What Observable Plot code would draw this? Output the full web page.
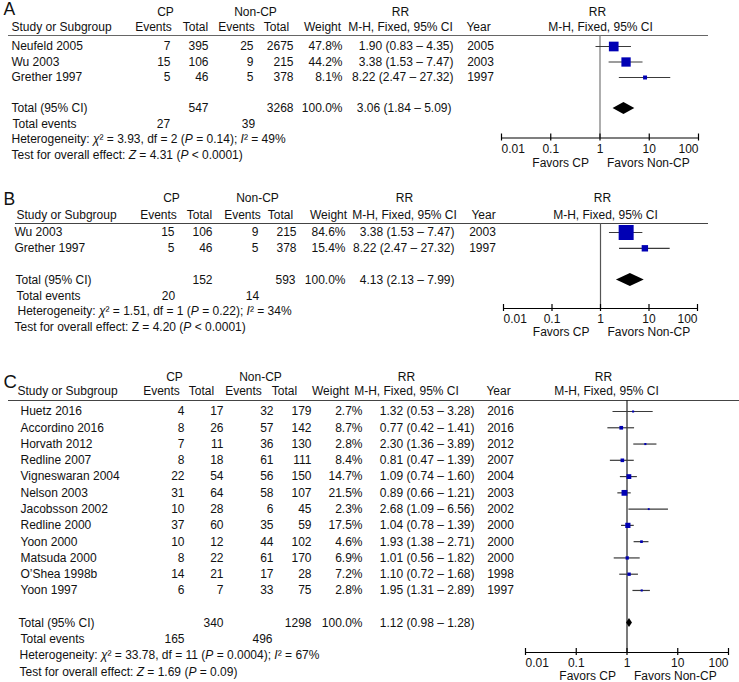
<!DOCTYPE html>
<html><head><meta charset="utf-8">
<script src="https://cdn.jsdelivr.net/npm/d3@7"></script>
<script src="https://cdn.jsdelivr.net/npm/@observablehq/plot@0.6"></script>
<style>
html,body{margin:0;padding:0;background:#fff;}
#chart{width:739px;height:682px;overflow:hidden;background:#fff;}
#chart svg{display:block;}
</style></head><body><div id="chart"></div>
<script>
// ---------- data ----------
const ticks = [0.01, 0.1, 1, 10, 100];
const tickLabels = ["0.01", "0.1", "1", "10", "100"];

// Panel A
const studiesA = ["Neufeld 2005", "Wu 2003", "Grether 1997"];
const cpEventsA = [7, 15, 5];
const cpTotalA = [395, 106, 46];
const ncEventsA = [25, 9, 5];
const ncTotalA = [2675, 215, 378];
const weightA = [47.8, 44.2, 8.1];
const rrA = [1.90, 3.38, 8.22];
const loA = [0.83, 1.53, 2.47];
const hiA = [4.35, 7.47, 27.32];
const yearA = [2005, 2003, 1997];
const totalA = [547, 3268, 3.06, 1.84, 5.09];   // cp total, non-cp total, RR, lo, hi
const eventsA = [27, 39];
const hetA = [3.93, 2, "= 0.14", 49];           // chi2, df, P, I2
const testA = [4.31, "< 0.0001"];               // Z, P

// Panel B
const studiesB = ["Wu 2003", "Grether 1997"];
const cpEventsB = [15, 5];
const cpTotalB = [106, 46];
const ncEventsB = [9, 5];
const ncTotalB = [215, 378];
const weightB = [84.6, 15.4];
const rrB = [3.38, 8.22];
const loB = [1.53, 2.47];
const hiB = [7.47, 27.32];
const yearB = [2003, 1997];
const totalB = [152, 593, 4.13, 2.13, 7.99];
const eventsB = [20, 14];
const hetB = [1.51, 1, "= 0.22", 34];
const testB = [4.20, "< 0.0001"];

// Panel C
const studiesC = ["Huetz 2016", "Accordino 2016", "Horvath 2012", "Redline 2007", "Vigneswaran 2004", "Nelson 2003",
  "Jacobsson 2002", "Redline 2000", "Yoon 2000", "Matsuda 2000", "O’Shea 1998b", "Yoon 1997"];
const cpEventsC = [4, 8, 7, 8, 22, 31, 10, 37, 10, 8, 14, 6];
const cpTotalC = [17, 26, 11, 18, 54, 64, 28, 60, 12, 22, 21, 7];
const ncEventsC = [32, 57, 36, 61, 56, 58, 6, 35, 44, 61, 17, 33];
const ncTotalC = [179, 142, 130, 111, 150, 107, 45, 59, 102, 170, 28, 75];
const weightC = [2.7, 8.7, 2.8, 8.4, 14.7, 21.5, 2.3, 17.5, 4.6, 6.9, 7.2, 2.8];
const rrC = [1.32, 0.77, 2.30, 0.81, 1.09, 0.89, 2.68, 1.04, 1.93, 1.01, 1.10, 1.95];
const loC = [0.53, 0.42, 1.36, 0.47, 0.74, 0.66, 1.09, 0.78, 1.38, 0.56, 0.72, 1.31];
const hiC = [3.28, 1.41, 3.89, 1.39, 1.60, 1.21, 6.56, 1.39, 2.71, 1.82, 1.68, 2.89];
const yearC = [2016, 2016, 2012, 2007, 2004, 2003, 2002, 2000, 2000, 2000, 1998, 1997];
const totalC = [340, 1298, 1.12, 0.98, 1.28];
const eventsC = [165, 496];
const hetC = [33.78, 11, "= 0.0004", 67];
const testC = [1.69, "= 0.09"];

// ---------- layout / style ----------
const FONT = "'Liberation Sans', Arial, Helvetica, sans-serif";
const BLUE = "#0000b4";
const INK = "#111";
const W = 739;

function makePanel(d, L) {
  const n = d.studies.length;
  const py = px => (px - L.row0) / L.step;
  const rows = d.studies.map((name, i) => ({
    row: i, name, cpEv: d.cpEvents[i], cpTot: d.cpTotal[i], ncEv: d.ncEvents[i], ncTot: d.ncTotal[i],
    weight: d.weight[i], rr: d.rr[i], lo: d.lo[i], hi: d.hi[i], year: d.year[i]
  }));
  const tRow = n + 1, eRow = n + 2, hRow = n + 3, zRow = n + 4;
  const ci = (rr, lo, hi) => `${rr.toFixed(2)} (${lo.toFixed(2)} – ${hi.toFixed(2)})`;
  const pct = w => w.toFixed(1) + "%";
  const str = v => String(v);
  const total = [{row: tRow, label: "Total (95% CI)", cpTot: d.total[0], ncTot: d.total[1], weight: 100,
    rr: d.total[2], lo: d.total[3], hi: d.total[4]}];
  const events = [{row: eRow, label: "Total events", cpEv: d.events[0], ncEv: d.events[1]}];
  const het = [{row: hRow, label: `Heterogeneity: {χ}² = ${d.het[0].toFixed(2)}, df = ${d.het[1]} ({P} ${d.het[2]}); {I}² = ${d.het[3]}%`}];
  const test = [{row: zRow, label: `Test for overall effect: ${L.zItalic ? "{Z}" : "Z"} = ${d.test[0].toFixed(2)} ({P} ${d.test[1]})`}];
  const hh = L.diamond / L.step;
  const diamond = [
    {x: total[0].lo, y1: tRow, y2: tRow},
    {x: total[0].rr, y1: tRow - hh, y2: tRow + hh},
    {x: total[0].hi, y1: tRow, y2: tRow}
  ];

  const txt = (data, x, anchor, get) =>
    Plot.text(data, {frameAnchor: "left", dx: x, y: "row", text: get, textAnchor: anchor, fill: INK});
  const hdr = (label, x, ypx, anchor = "middle") =>
    Plot.text([label], {frameAnchor: "left", dx: x, y: py(ypx), text: t => t, textAnchor: anchor, fill: INK});

  const c = L.cols;
  const marks = [
    // panel letter
    Plot.text([L.letter], {frameAnchor: "left", dx: 3, y: py(L.letterY), text: t => t, textAnchor: "start",
      fontSize: L.letterSize, fill: INK}),
    // headers
    hdr("CP", c.h1[0], L.h1), hdr("Non-CP", c.h1[1], L.h1), hdr("RR", c.h1[2], L.h1), hdr("RR", c.h1[3], L.h1),
    hdr("Study or Subgroup", c.h2[0], L.h2, "start"),
    hdr("Events", c.h2[1], L.h2), hdr("Total", c.h2[2], L.h2), hdr("Events", c.h2[3], L.h2), hdr("Total", c.h2[4], L.h2),
    hdr("Weight", c.h2[5], L.h2), hdr("M-H, Fixed, 95% CI", c.h2[6], L.h2), hdr("Year", c.h2[7], L.h2),
    hdr("M-H, Fixed, 95% CI", c.h2[8], L.h2),
    // header rule
    Plot.ruleY([py(L.hline)], {insetLeft: L.hlineX[0], insetRight: W - L.hlineX[1], stroke: L.hcolor, strokeWidth: 1.2}),
    // study rows
    txt(rows, c.s[0], "start", r => r.name),
    txt(rows, c.s[1], "end", r => str(r.cpEv)),
    txt(rows, c.s[2], "end", r => str(r.cpTot)),
    txt(rows, c.s[3], "end", r => str(r.ncEv)),
    txt(rows, c.s[4], "end", r => str(r.ncTot)),
    txt(rows, c.s[5], "end", r => pct(r.weight)),
    txt(rows, c.s[6], "end", r => ci(r.rr, r.lo, r.hi)),
    txt(rows, c.s[7], "middle", r => str(r.year)),
    // total row
    txt(total, c.t[0], "start", r => r.label),
    txt(total, c.t[1], "end", r => str(r.cpTot)),
    txt(total, c.t[2], "end", r => str(r.ncTot)),
    txt(total, c.t[3], "end", r => pct(r.weight)),
    txt(total, c.t[4], "end", r => ci(r.rr, r.lo, r.hi)),
    // total events
    txt(events, c.e[0], "start", r => r.label),
    txt(events, c.e[1], "middle", r => str(r.cpEv)),
    txt(events, c.e[2], "middle", r => str(r.ncEv)),
    // heterogeneity & test
    txt(het, c.het, "start", r => r.label),
    txt(test, c.test, "start", r => r.label),
    // line of no effect
    Plot.ruleX([1], {y1: py(L.hline), y2: py(L.axis), stroke: L.vcolor, strokeWidth: 1.2}),
    // CI lines + squares
    Plot.ruleY(rows, {y: "row", x1: "lo", x2: "hi", stroke: "#3a3a3a", strokeWidth: 1.2}),
    Plot.dot(rows, {x: "rr", y: "row", r: "weight", symbol: "square", fill: BLUE}),
    // diamond
    Plot.areaY(diamond, {x: "x", y1: "y1", y2: "y2", fill: "#000"}),
    // axis
    Plot.ruleY([py(L.axis)], {x1: ticks[0], x2: ticks[ticks.length - 1], stroke: "#000", strokeWidth: 1.2}),
    Plot.ruleX(ticks, {x: t => t, y1: py(L.axis) - 4 / L.step, y2: py(L.axis) + 3 / L.step, stroke: "#000", strokeWidth: 1.2}),
    Plot.text(ticks.slice(0, 1), {x: t => t, y: py(L.axis), dy: L.tickDy, text: t => tickLabels[ticks.indexOf(t)], textAnchor: "start", fill: INK}),
    Plot.text(ticks.slice(1, -1), {x: t => t, y: py(L.axis), dy: L.tickDy, text: t => tickLabels[ticks.indexOf(t)], textAnchor: "middle", fill: INK}),
    Plot.text(ticks.slice(-1), {x: t => t, y: py(L.axis), dy: L.tickDy, text: t => tickLabels[ticks.indexOf(t)], textAnchor: "end", fill: INK}),
    Plot.text(["Favors CP"], {x: 1, y: py(L.axis), dy: L.favDy, dx: -11, text: t => t, textAnchor: "end", fill: INK}),
    Plot.text(["Favors Non-CP"], {x: 1, y: py(L.axis), dy: L.favDy, dx: 7, text: t => t, textAnchor: "start", fill: INK})
  ];

  const svg = Plot.plot({
    width: W, height: L.height,
    marginLeft: 0, marginRight: 0, marginTop: 0, marginBottom: 0,
    x: {type: "log", domain: [ticks[0], ticks[ticks.length - 1]], range: L.xRange, axis: null},
    y: {type: "linear", domain: [0, 1], range: [L.row0 - L.top, L.row0 - L.top + L.step], axis: null},
    r: {type: "sqrt", domain: [0, 100], range: [0, L.rMax]},
    style: {fontFamily: FONT, fontSize: "12px", background: "white", overflow: "visible"},
    marks
  });

  // italic fragments marked with {…}
  d3.select(svg).selectAll("text").each(function () {
    const s = this.textContent;
    if (!s.includes("{")) return;
    const parts = s.split(/(\{[^}]*\})/);
    this.textContent = "";
    for (const p of parts) {
      if (!p) continue;
      const ts = document.createElementNS("http://www.w3.org/2000/svg", "tspan");
      if (p.startsWith("{")) { ts.setAttribute("font-style", "italic"); ts.textContent = p.slice(1, -1); }
      else ts.textContent = p;
      this.appendChild(ts);
    }
  });
  return svg;
}

const panels = [
  [{studies: studiesA, cpEvents: cpEventsA, cpTotal: cpTotalA, ncEvents: ncEventsA, ncTotal: ncTotalA, weight: weightA,
    rr: rrA, lo: loA, hi: hiA, year: yearA, total: totalA, events: eventsA, het: hetA, test: testA},
   {top: 0, height: 170, row0: 46, step: 15.5, h1: 12, h2: 27, hline: 35, hlineX: [8, 708], axis: 137.5,
    xRange: [501, 698], letter: "A", letterY: 8.5, letterSize: 17.5, diamond: 6, rMax: 7.9, tickDy: 11, favDy: 25,
    vcolor: "#777", hcolor: "#666", zItalic: true,
    cols: {h1: [165, 255, 400, 597], h2: [11, 153, 195, 236, 276, 322, 400, 478, 600],
      s: [11, 170, 208, 253, 293, 342, 453, 480], t: [11, 208, 293, 342, 451], e: [12, 163, 248], het: 11, test: 11}}],
  [{studies: studiesB, cpEvents: cpEventsB, cpTotal: cpTotalB, ncEvents: ncEventsB, ncTotal: ncTotalB, weight: weightB,
    rr: rrB, lo: loB, hi: hiB, year: yearB, total: totalB, events: eventsB, het: hetB, test: testB},
   {top: 170, height: 170, row0: 232, step: 15.8, h1: 198, h2: 215, hline: 223, hlineX: [15, 708], axis: 308,
    xRange: [503, 697], letter: "B", letterY: 199, letterSize: 17.5, diamond: 6.5, rMax: 9.2, tickDy: 11, favDy: 24,
    vcolor: "#555", hcolor: "#444", zItalic: false,
    cols: {h1: [171, 257, 404, 602], h2: [16, 158, 199, 242, 280, 328, 404, 483, 605],
      s: [14, 174, 212, 258, 296, 345, 454, 482], t: [15, 212, 295, 345, 454], e: [16, 168, 252], het: 17, test: 14}}],
  [{studies: studiesC, cpEvents: cpEventsC, cpTotal: cpTotalC, ncEvents: ncEventsC, ncTotal: ncTotalC, weight: weightC,
    rr: rrC, lo: loC, hi: hiC, year: yearC, total: totalC, events: eventsC, het: hetC, test: testC},
   {top: 340, height: 342, row0: 411, step: 16.27, h1: 377, h2: 391, hline: 400, hlineX: [8, 739], axis: 652,
    xRange: [525, 728], letter: "C", letterY: 381.5, letterSize: 18.5, diamond: 4.5, rMax: 7.05, tickDy: 10.5, favDy: 24,
    vcolor: "#222", hcolor: "#444", zItalic: true,
    cols: {h1: [174, 260, 406, 603], h2: [17, 161, 201, 243, 284, 330, 406, 498, 606],
      s: [20, 184, 223, 273, 311, 362, 474, 500], t: [18, 223, 311, 362, 474], e: [20, 174, 262], het: 19, test: 19}}]
];

const root = document.getElementById("chart");
for (const [d, L] of panels) root.appendChild(makePanel(d, L));
</script></body></html>
